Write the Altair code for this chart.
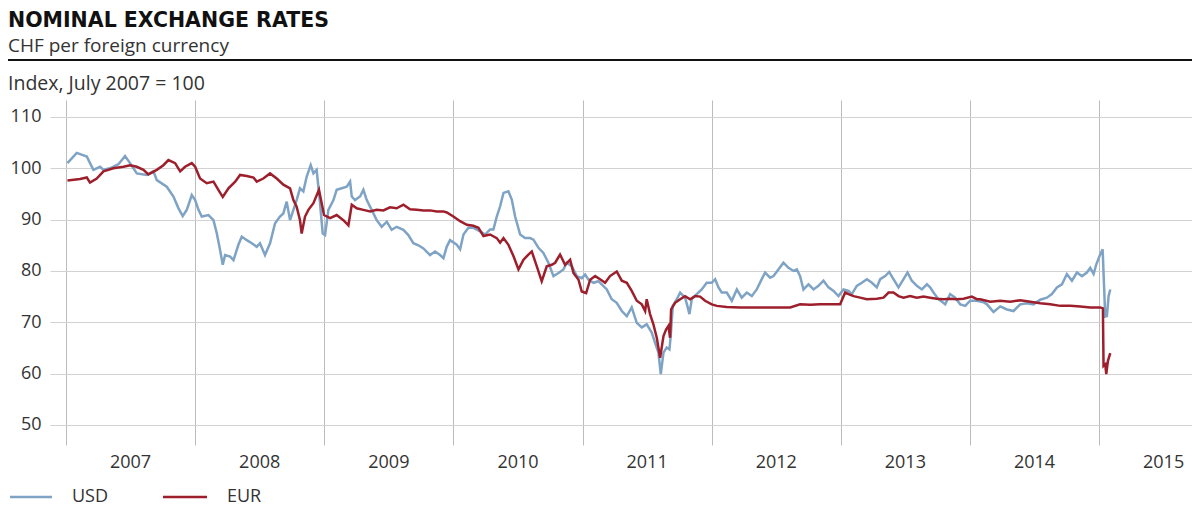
import altair as alt
import pandas as pd

# ---- data (decimal year, index July 2007 = 100) ----
usd_year = [2007.011, 2007.083, 2007.161, 2007.186, 2007.212, 2007.264, 2007.290, 2007.341, 2007.406, 2007.457,
            2007.496, 2007.548, 2007.625, 2007.677, 2007.703, 2007.780, 2007.832, 2007.871, 2007.904, 2007.935,
            2007.974, 2008.000, 2008.026, 2008.051, 2008.103, 2008.142, 2008.168, 2008.193, 2008.214, 2008.232,
            2008.271, 2008.297, 2008.335, 2008.361, 2008.400, 2008.439, 2008.477, 2008.502, 2008.541, 2008.580,
            2008.619, 2008.657, 2008.683, 2008.709, 2008.735, 2008.761, 2008.786, 2008.812, 2008.838, 2008.864,
            2008.895, 2008.916, 2008.941, 2008.967, 2008.988, 2009.006, 2009.032, 2009.071, 2009.096, 2009.135,
            2009.174, 2009.200, 2009.213, 2009.238, 2009.277, 2009.303, 2009.329, 2009.367, 2009.406, 2009.445,
            2009.484, 2009.522, 2009.561, 2009.613, 2009.651, 2009.690, 2009.729, 2009.768, 2009.819, 2009.858,
            2009.897, 2009.923, 2009.948, 2009.974, 2010.026, 2010.052, 2010.078, 2010.116, 2010.155, 2010.207,
            2010.246, 2010.284, 2010.310, 2010.336, 2010.362, 2010.388, 2010.426, 2010.452, 2010.478, 2010.517,
            2010.555, 2010.594, 2010.620, 2010.659, 2010.697, 2010.736, 2010.775, 2010.814, 2010.852, 2010.878,
            2010.917, 2010.956, 2010.994, 2011.020, 2011.046, 2011.085, 2011.123, 2011.188, 2011.226, 2011.265,
            2011.304, 2011.343, 2011.381, 2011.420, 2011.459, 2011.497, 2011.536, 2011.562, 2011.588, 2011.606,
            2011.627, 2011.652, 2011.673, 2011.683, 2011.699, 2011.730, 2011.756, 2011.794, 2011.812, 2011.828,
            2011.846, 2011.885, 2011.923, 2011.962, 2012.001, 2012.027, 2012.053, 2012.078, 2012.117, 2012.156,
            2012.195, 2012.233, 2012.272, 2012.311, 2012.349, 2012.388, 2012.414, 2012.453, 2012.479, 2012.517,
            2012.556, 2012.595, 2012.634, 2012.660, 2012.685, 2012.711, 2012.750, 2012.789, 2012.827, 2012.866,
            2012.905, 2012.944, 2012.982, 2013.021, 2013.060, 2013.086, 2013.124, 2013.163, 2013.202, 2013.241,
            2013.279, 2013.305, 2013.344, 2013.375, 2013.408, 2013.447, 2013.486, 2013.517, 2013.550, 2013.589,
            2013.628, 2013.667, 2013.692, 2013.718, 2013.757, 2013.809, 2013.847, 2013.886, 2013.925, 2013.964,
            2014.002, 2014.054, 2014.106, 2014.132, 2014.183, 2014.235, 2014.287, 2014.338, 2014.390, 2014.441,
            2014.493, 2014.545, 2014.596, 2014.635, 2014.674, 2014.713, 2014.751, 2014.790, 2014.829, 2014.868,
            2014.906, 2014.932, 2014.958, 2014.979, 2015.004, 2015.028, 2015.040, 2015.048, 2015.061, 2015.074,
            2015.087]
usd_val = [101.0, 103.0, 102.3, 101.0, 99.7, 100.3, 99.7, 100.0, 100.8, 102.4,
           101.0, 99.0, 98.7, 99.4, 97.7, 96.4, 94.5, 92.2, 90.7, 91.9,
           94.8, 93.8, 91.9, 90.6, 90.9, 89.9, 87.3, 84.1, 81.2, 83.1,
           82.8, 82.1, 85.1, 86.7, 86.0, 85.4, 84.7, 85.4, 83.1, 85.4,
           89.3, 90.6, 91.2, 93.5, 89.9, 91.9, 93.8, 96.1, 95.5, 98.4,
           100.6, 99.0, 99.7, 93.2, 87.3, 87.0, 91.9, 93.8, 95.8, 96.1,
           96.4, 97.4, 94.5, 93.8, 94.5, 95.8, 93.8, 91.9, 89.9, 88.6,
           89.6, 88.0, 88.6, 88.0, 87.0, 85.4, 85.0, 84.4, 83.1, 83.8,
           83.1, 82.5, 84.7, 86.0, 85.1, 84.2, 87.1, 88.4, 88.4, 87.7,
           87.1, 88.1, 88.1, 90.6, 92.6, 95.2, 95.5, 93.9, 90.6, 87.1,
           86.4, 86.4, 86.1, 84.5, 83.5, 81.6, 79.0, 79.6, 80.3, 81.6,
           80.9, 79.0, 78.6, 79.3, 78.3, 77.7, 78.0, 76.4, 74.5, 73.8,
           72.2, 71.2, 72.9, 69.9, 69.0, 69.6, 68.0, 66.0, 64.1, 59.9,
           64.1, 65.1, 64.7, 67.3, 73.2, 74.5, 75.8, 74.8, 73.2, 71.6,
           74.5, 75.5, 76.4, 77.7, 77.7, 78.4, 76.8, 75.8, 75.8, 74.2,
           76.4, 74.8, 75.8, 75.1, 76.4, 78.4, 79.7, 78.7, 79.0, 80.3,
           81.6, 80.6, 80.0, 80.3, 79.0, 76.4, 77.4, 76.4, 77.1, 78.1,
           76.8, 76.1, 75.1, 76.4, 76.1, 75.5, 77.1, 77.7, 78.4, 77.7,
           76.8, 78.4, 79.0, 79.8, 78.4, 76.8, 78.4, 79.7, 78.1, 77.1,
           76.4, 77.4, 76.8, 75.8, 74.5, 73.5, 75.5, 74.8, 73.5, 73.2,
           74.2, 74.2, 73.9, 73.5, 72.0, 73.1, 72.5, 72.2, 73.5, 73.7,
           73.5, 74.4, 74.8, 75.5, 76.8, 77.4, 79.4, 78.1, 79.7, 79.0,
           79.7, 80.6, 79.4, 81.3, 82.9, 84.2, 76.4, 71.1, 71.2, 75.1,
           76.4]

eur_year = [2007.011, 2007.109, 2007.161, 2007.186, 2007.238, 2007.290, 2007.367, 2007.445, 2007.496, 2007.548,
            2007.600, 2007.638, 2007.703, 2007.754, 2007.793, 2007.845, 2007.884, 2007.922, 2007.974, 2008.000,
            2008.038, 2008.090, 2008.142, 2008.180, 2008.214, 2008.258, 2008.310, 2008.348, 2008.400, 2008.452,
            2008.477, 2008.528, 2008.580, 2008.632, 2008.683, 2008.735, 2008.761, 2008.786, 2008.812, 2008.825,
            2008.851, 2008.877, 2008.916, 2008.959, 2008.980, 2008.998, 2009.045, 2009.096, 2009.148, 2009.187,
            2009.213, 2009.251, 2009.303, 2009.355, 2009.406, 2009.458, 2009.509, 2009.561, 2009.613, 2009.664,
            2009.716, 2009.768, 2009.819, 2009.871, 2009.923, 2009.949, 2010.000, 2010.052, 2010.104, 2010.155,
            2010.194, 2010.233, 2010.284, 2010.336, 2010.362, 2010.388, 2010.426, 2010.465, 2010.504, 2010.543,
            2010.581, 2010.607, 2010.646, 2010.684, 2010.723, 2010.762, 2010.788, 2010.826, 2010.865, 2010.904,
            2010.930, 2010.969, 2010.994, 2011.028, 2011.059, 2011.098, 2011.136, 2011.175, 2011.213, 2011.265,
            2011.304, 2011.343, 2011.381, 2011.420, 2011.459, 2011.485, 2011.497, 2011.523, 2011.549, 2011.575,
            2011.601, 2011.627, 2011.647, 2011.665, 2011.678, 2011.686, 2011.717, 2011.756, 2011.794, 2011.833,
            2011.872, 2011.911, 2011.949, 2012.001, 2012.040, 2012.117, 2012.220, 2012.324, 2012.427, 2012.530,
            2012.608, 2012.685, 2012.763, 2012.840, 2012.918, 2012.995, 2013.034, 2013.060, 2013.099, 2013.150,
            2013.202, 2013.279, 2013.331, 2013.370, 2013.408, 2013.447, 2013.486, 2013.537, 2013.589, 2013.641,
            2013.692, 2013.744, 2013.796, 2013.847, 2013.899, 2013.951, 2014.015, 2014.054, 2014.080, 2014.157,
            2014.235, 2014.312, 2014.390, 2014.467, 2014.545, 2014.622, 2014.700, 2014.777, 2014.855, 2014.932,
            2015.009, 2015.030, 2015.035, 2015.048, 2015.056, 2015.069, 2015.087]
eur_val = [97.6, 97.9, 98.2, 97.2, 98.0, 99.4, 100.0, 100.3, 100.6, 100.3,
           99.7, 98.8, 99.7, 100.6, 101.6, 101.0, 99.4, 100.3, 101.0, 100.3,
           98.0, 97.1, 97.4, 95.8, 94.4, 96.1, 97.4, 98.7, 98.5, 98.2,
           97.4, 98.0, 99.0, 98.0, 96.8, 96.1, 93.8, 92.5, 89.9, 87.3,
           90.6, 91.9, 93.2, 95.8, 93.2, 90.9, 90.3, 90.9, 89.9, 88.9,
           92.9, 92.2, 91.9, 91.6, 91.9, 91.8, 92.4, 92.2, 92.9, 92.0,
           91.9, 91.8, 91.8, 91.6, 91.6, 91.4, 90.6, 89.7, 89.0, 88.8,
           88.4, 86.8, 87.1, 86.4, 85.5, 86.4, 85.1, 82.9, 80.3, 82.2,
           83.2, 83.8, 80.9, 78.0, 80.9, 81.2, 81.6, 83.2, 81.2, 82.2,
           79.6, 78.3, 76.0, 75.7, 78.3, 79.0, 78.4, 77.7, 79.0, 79.9,
           78.1, 77.7, 76.1, 74.2, 73.5, 72.2, 74.5, 71.6, 69.6, 67.0,
           63.1, 67.3, 68.6, 69.3, 67.0, 72.5, 73.8, 74.5, 75.1, 74.5,
           75.1, 75.0, 74.2, 73.5, 73.2, 73.0, 72.9, 72.9, 72.9, 72.9,
           72.9, 73.5, 73.4, 73.5, 73.5, 73.5, 75.8, 75.5, 75.1, 74.8,
           74.5, 74.6, 74.8, 75.8, 75.8, 75.1, 74.8, 75.1, 74.8, 75.0,
           74.8, 74.6, 74.5, 74.6, 74.5, 74.6, 75.0, 74.5, 74.5, 74.0,
           74.2, 74.0, 74.3, 74.0, 73.7, 73.5, 73.2, 73.2, 73.1, 72.9,
           72.9, 72.7, 61.5, 61.8, 59.9, 62.5, 64.0]

year_ticks = [2007, 2008, 2009, 2010, 2011, 2012, 2013, 2014, 2015]
year_labels = ["2007", "2008", "2009", "2010", "2011", "2012", "2013", "2014", "2015"]
y_ticks = [50, 60, 70, 80, 90, 100, 110]

BLUE = "#7fa3c5"
RED = "#9e1f2c"
FONT = "Open Sans"

usd_df = pd.DataFrame({"year": usd_year, "value": usd_val})
eur_df = pd.DataFrame({"year": eur_year, "value": eur_val})
lab_df = pd.DataFrame({"year": [y + 0.5 for y in year_ticks], "label": year_labels})

xscale = alt.Scale(domain=[2006.876, 2015.720], nice=False, zero=False)
yscale = alt.Scale(domain=[46.1, 113.3], nice=False, zero=False)

W, H = 1142, 345

X_AX = alt.Axis(values=year_ticks, grid=True, labels=False, ticks=False, domain=False,
                title=None, gridColor="#bcbcbc", gridWidth=1)
Y_AX = alt.Axis(values=y_ticks, grid=True, ticks=False, domain=False, title=None,
                gridColor="#d2d2d2", gridWidth=1, labelFont=FONT, labelFontSize=18,
                labelColor="#333333", labelPadding=9)

line_usd = alt.Chart(usd_df).mark_line(color=BLUE, strokeWidth=2.5, clip=True).encode(
    x=alt.X("year:Q", scale=xscale, axis=X_AX),
    y=alt.Y("value:Q", scale=yscale, axis=Y_AX),
)

line_eur = alt.Chart(eur_df).mark_line(color=RED, strokeWidth=2.5, clip=True).encode(
    x=alt.X("year:Q", scale=xscale, axis=X_AX),
    y=alt.Y("value:Q", scale=yscale, axis=Y_AX),
)

year_text = alt.Chart(lab_df).mark_text(font=FONT, fontSize=18, color="#333333",
                                        baseline="middle", align="center").encode(
    x=alt.X("year:Q", scale=xscale, axis=X_AX),
    y=alt.value(363),
    text="label:N",
)

one = alt.Data(values=[{}])

def txt(s, x, y, size=18, weight="normal", font=FONT, color="#333333", baseline="middle"):
    return alt.Chart(one).mark_text(text=s, font=font, fontSize=size, fontWeight=weight,
                                    color=color, align="left", baseline=baseline).encode(
        x=alt.value(x), y=alt.value(y))

title = txt("NOMINAL EXCHANGE RATES", -42, -73, size=20.5, weight="bold", font="DejaVu Sans",
            color="#111111", baseline="alphabetic")
subtitle = txt("CHF per foreign currency", -42, -54, size=19)
ytitle = txt("Index, July 2007 = 100", -42, -16, size=19.5)

top_rule = alt.Chart(one).mark_rule(color="#111111", strokeWidth=2).encode(
    x=alt.value(-42), x2=alt.value(1142), y=alt.value(-40))

leg_usd = alt.Chart(one).mark_rule(color=BLUE, strokeWidth=2.5).encode(
    x=alt.value(-40), x2=alt.value(2), y=alt.value(397))
leg_eur = alt.Chart(one).mark_rule(color=RED, strokeWidth=2.5).encode(
    x=alt.value(113), x2=alt.value(157), y=alt.value(397))
leg_usd_t = txt("USD", 22, 397)
leg_eur_t = txt("EUR", 177, 397)

chart = alt.layer(
    line_usd, line_eur, year_text, title, subtitle, ytitle, top_rule,
    leg_usd, leg_eur, leg_usd_t, leg_eur_t
).properties(
    width=W, height=H,
    autosize=alt.AutoSizeParams(type="none"),
    padding={"left": 42, "top": 92, "right": 0, "bottom": 70},
).configure_view(stroke=None)

chart.save("out.html", embed_options={"renderer": "svg", "actions": False})
